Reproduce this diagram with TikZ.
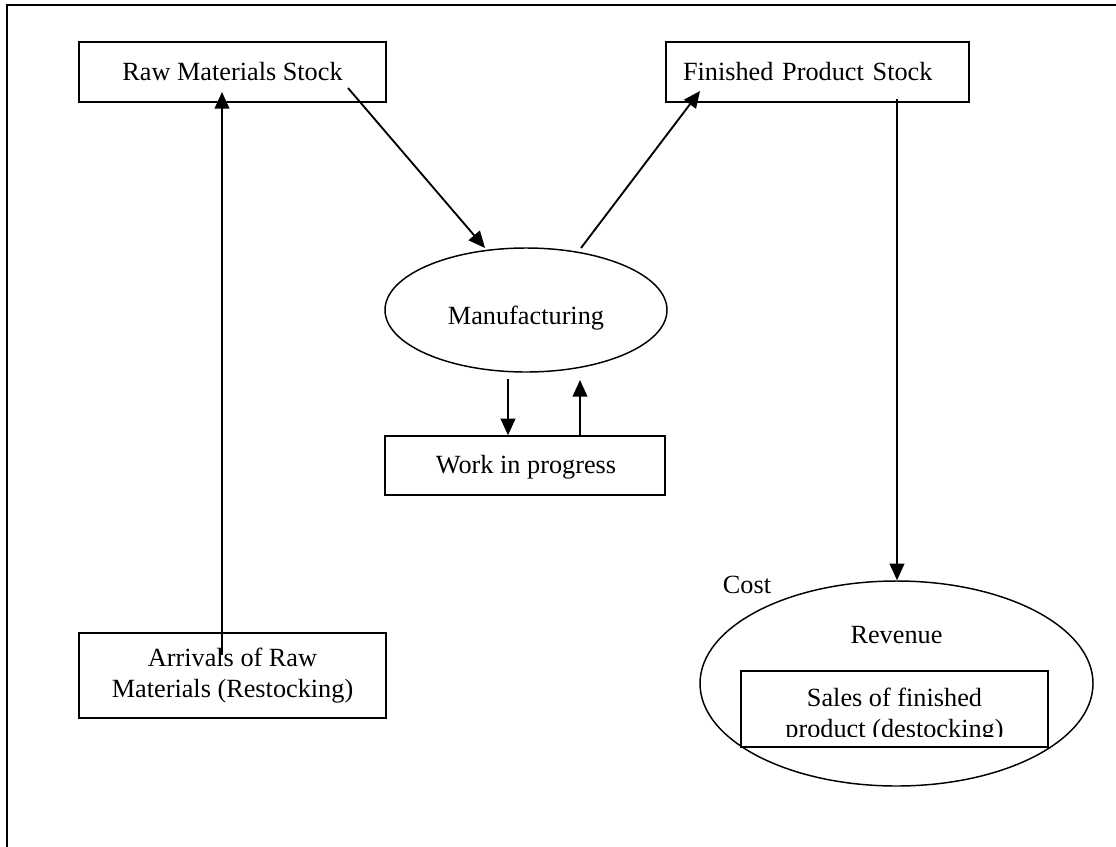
\documentclass[tikz,border=0pt]{standalone}
\usepackage{fontspec}
\setmainfont{Liberation Serif}
\usetikzlibrary{arrows.meta,shapes.geometric}
\begin{document}
\begin{tikzpicture}[
      x=0.75pt, y=-0.75pt,
      every node/.style={font=\fontsize{19.7pt}{23pt}\selectfont, inner sep=0pt},
      box/.style={draw, line width=1.1pt, rectangle, minimum width=230.25pt, minimum height=45pt, align=center},
      oval/.style={draw, line width=1.1pt, ellipse},
      flow/.style={-{Triangle[length=12.5pt,width=11pt]}, line width=1.4pt}
      ]
      \useasboundingbox (0,0) rectangle (1116,846);
      \clip (0,0) rectangle (1116,846);
      \draw[line width=1.5pt] (7,5) rectangle (1140,880);
      \node[box] (rms) at (232.5,72) {Raw Materials Stock};
      \node[box, minimum width=227.25pt, text width=201.75pt, align=left] (fps) at (817.5,72) {Finished Product Stock};
      \node[oval, minimum width=211.5pt, minimum height=93pt] (man) at (526,310) {};
      \node (manlbl) at (526,318) {Manufacturing};
      \node[box, minimum width=210pt, minimum height=44.25pt] (wip) at (525,465.5) {};
      \node (wiplbl) at (526,467) {Work in progress};
      \node[box, minimum height=63.75pt] (arr) at (232.5,675.5) {Arrivals of Raw\\Materials (Restocking)};
      \node[oval, minimum width=294.75pt, minimum height=153.75pt] (rev) at (896.5,683.5) {};
      \node (revlbl) at (896.5,635) {Revenue};
      \node (cost) at (747,585) {Cost};
      \begin{scope}
        \clip (741,660) rectangle (1048,736);
        \node[align=center] (saleslbl) at (894.5,715.5) {Sales of finished\\product (destocking)};
      \end{scope}
      \node[box, minimum height=57pt] (sales) at (894.5,709) {};
      \coordinate (arrin) at (222,655);
      \coordinate (rmsin) at (222,92);
      \coordinate (rmsout) at (348,88);
      \coordinate (manin) at (485,248);
      \coordinate (manout) at (581,248);
      \coordinate (fpsin) at (700,91);
      \coordinate (fpsout) at (897,99);
      \coordinate (mandown) at (508,379);
      \coordinate (manup) at (580,380);
      \draw[flow] (arrin) -- (rmsin);
      \draw[flow] (rmsout) -- (manin);
      \draw[flow] (manout) -- (fpsin);
      \draw[flow] (mandown) -- (mandown |- wip.north);
      \draw[flow] (manup |- wip.north) -- (manup);
      \draw[flow] (fpsout) -- (fpsout |- rev.north);
\end{tikzpicture}
\end{document}
